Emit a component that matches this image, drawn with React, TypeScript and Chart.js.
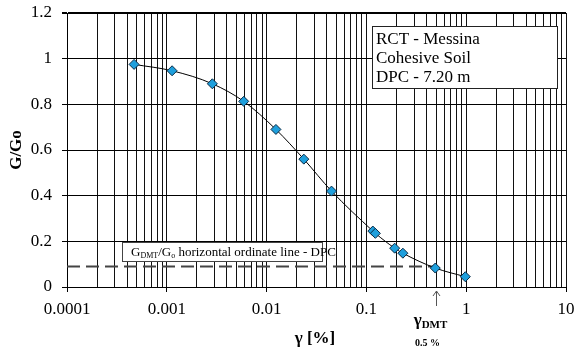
import React, { useEffect, useRef } from "react";
import { Chart, registerables } from "chart.js";

Chart.register(...registerables);

const strainPct = [0.00047, 0.00113, 0.00286, 0.0059, 0.0124, 0.0236, 0.0447, 0.116, 0.123, 0.192, 0.232, 0.49, 0.98];
const gRatio = [0.975, 0.947, 0.89, 0.813, 0.69, 0.56, 0.42, 0.245, 0.235, 0.17, 0.148, 0.083, 0.045];
const dmtLineX = [0.0001, 0.49];
const dmtLineY = [0.09, 0.09];
const gammaDMT = 0.5;
const infoLines = ["RCT - Messina", "Cohesive Soil", "DPC - 7.20 m"];
const decades = [0.0001, 0.001, 0.01, 0.1, 1, 10];
const yTickValues = [0, 0.2, 0.4, 0.6, 0.8, 1, 1.2];

const SERIF = '"Liberation Serif", "Times New Roman", serif';

function buildXTicks() {
  const out: { value: number; major: boolean }[] = [];
  for (let d = 0; d < decades.length; d++) {
    const base = decades[d];
    out.push({ value: base, major: true });
    if (d < decades.length - 1) {
      for (let m = 2; m <= 9; m++) out.push({ value: base * m, major: false });
    }
  }
  return out;
}

const isDecade = (v: number) => decades.some((d) => Math.abs(v - d) / d < 1e-6);

const overlayPlugin = {
  id: "overlay",
  afterDatasetsDraw(chart: any) {
    const ctx = chart.ctx as CanvasRenderingContext2D;
    const xs = chart.scales.x;
    const area = chart.chartArea;
    ctx.save();

    // info box (top right)
    const bx = 372, by = 26, bw = 185, bh = 62;
    ctx.fillStyle = "#ffffff";
    ctx.fillRect(bx, by, bw, bh);
    ctx.strokeStyle = "#222";
    ctx.lineWidth = 1;
    ctx.strokeRect(bx + 0.5, by + 0.5, bw, bh);
    ctx.fillStyle = "#000";
    ctx.font = `17px ${SERIF}`;
    ctx.textAlign = "left";
    ctx.textBaseline = "middle";
    infoLines.forEach((t, i) => ctx.fillText(t, bx + 4, by + 14 + i * 18.7));

    // legend box for dashed line
    const lx = 122, ly = 242, lw = 200, lh = 19;
    ctx.fillStyle = "#ffffff";
    ctx.fillRect(lx, ly, lw, lh);
    ctx.strokeStyle = "#444";
    ctx.strokeRect(lx + 0.5, ly + 0.5, lw, lh);
    ctx.fillStyle = "#000";
    ctx.textBaseline = "alphabetic";
    let cx = lx + 9;
    const base = ly + 14;
    const seg = (t: string, size: number, dy: number) => {
      ctx.font = `${size}px ${SERIF}`;
      ctx.fillText(t, cx, base + dy);
      cx += ctx.measureText(t).width;
    };
    seg("G", 13, 0);
    seg("DMT", 8, 2);
    seg("/G", 13, 0);
    seg("o", 8, 2);
    seg(" horizontal ordinate line - DPC", 13, 0);

    // arrow at gamma DMT
    const ax = Math.round(xs.getPixelForValue(gammaDMT)) + 0.5;
    ctx.strokeStyle = "#555";
    ctx.lineWidth = 1;
    ctx.beginPath();
    ctx.moveTo(ax, area.bottom + 4);
    ctx.lineTo(ax, area.bottom + 19);
    ctx.moveTo(ax - 3.5, area.bottom + 9);
    ctx.lineTo(ax, area.bottom + 4);
    ctx.lineTo(ax + 3.5, area.bottom + 9);
    ctx.stroke();

    // gamma DMT label
    ctx.fillStyle = "#000";
    ctx.textBaseline = "alphabetic";
    ctx.textAlign = "left";
    ctx.font = `bold 17px ${SERIF}`;
    const gw = ctx.measureText("γ").width;
    ctx.font = `bold 11px ${SERIF}`;
    const dw = ctx.measureText("DMT").width;
    const gx = ax - 6 - (gw + dw) / 2;
    ctx.font = `bold 17px ${SERIF}`;
    ctx.fillText("γ", gx, 325);
    ctx.font = `bold 11px ${SERIF}`;
    ctx.fillText("DMT", gx + gw, 328);
    ctx.font = `bold 10px ${SERIF}`;
    ctx.textAlign = "center";
    ctx.fillText("0.5 %", ax - 9, 346);

    // x title
    ctx.font = `bold 17px ${SERIF}`;
    ctx.textAlign = "center";
    ctx.textBaseline = "middle";
    ctx.fillText("γ [%]", 315, 339);

    // y title
    ctx.save();
    ctx.translate(17, 150);
    ctx.rotate(-Math.PI / 2);
    ctx.fillText("G/Go", 0, 0);
    ctx.restore();

    ctx.restore();
  },
};

export default function App() {
  const ref = useRef<HTMLCanvasElement | null>(null);
  useEffect(() => {
    if (!ref.current) return;
    const xTicks = buildXTicks();
    const chart = new Chart(ref.current, {
      type: "line",
      data: {
        datasets: [
          {
            label: "G/Go",
            data: strainPct.map((x, i) => ({ x, y: gRatio[i] })),
            borderColor: "#000",
            borderWidth: 1,
            cubicInterpolationMode: "monotone",
            pointStyle: "rectRot",
            pointRadius: 5,
            pointBackgroundColor: "#1E9FDC",
            pointBorderColor: "#0a2a44",
            pointBorderWidth: 1,
            order: 0,
          },
          {
            label: "GDMT/Go",
            data: dmtLineX.map((x, i) => ({ x, y: dmtLineY[i] })),
            borderColor: "#444",
            borderWidth: 2,
            borderDash: [13, 6],
            pointRadius: 0,
            order: 1,
          },
        ],
      },
      options: {
        animation: false,
        responsive: false,
        layout: { padding: { top: 13, right: 8, left: 0, bottom: 0 } },
        plugins: { legend: { display: false }, tooltip: { enabled: false } },
        scales: {
          x: {
            type: "logarithmic",
            min: 0.0001,
            max: 10,
            afterBuildTicks: (scale: any) => {
              scale.ticks = xTicks.map((t) => ({ value: t.value, major: t.major }));
            },
            afterFit: (scale: any) => {
              scale.height = 66;
              scale.paddingLeft = 0;
              scale.paddingRight = 0;
            },
            ticks: {
              autoSkip: false,
              maxRotation: 0,
              minRotation: 0,
              padding: 7,
              color: "#000",
              font: { family: SERIF, size: 17 },
              callback: (v: any) => (isDecade(Number(v)) ? String(Number(v)) : ""),
            },
            grid: {
              color: "#111",
              lineWidth: 1,
              tickLength: 5,
              tickColor: (c: any) => (c.tick && isDecade(c.tick.value) ? "#000" : "rgba(0,0,0,0)"),
            },
            border: { color: "#000", width: 1 },
          },
          y: {
            min: 0,
            max: 1.2,
            afterBuildTicks: (scale: any) => {
              scale.ticks = yTickValues.map((v) => ({ value: v }));
            },
            afterFit: (scale: any) => {
              scale.width = 67;
              scale.paddingTop = 0;
              scale.paddingBottom = 0;
            },
            ticks: {
              padding: 10,
              color: "#000",
              font: { family: SERIF, size: 17 },
              callback: (v: any) => String(Math.round(Number(v) * 10) / 10),
            },
            grid: {
              color: "#000",
              lineWidth: (c: any) => (c.tick && c.tick.value === 1.2 ? 2 : 1),
              tickLength: 5,
              tickColor: "#000",
            },
            border: { color: "#000", width: 1 },
          },
        },
      },
      plugins: [overlayPlugin],
    } as any);
    return () => chart.destroy();
  }, []);

  return (
    <div style={{ position: "fixed", left: 0, top: 0, width: 574, height: 353, background: "#fff" }}>
      <canvas ref={ref} width={574} height={353} style={{ width: 574, height: 353 }} />
    </div>
  );
}
